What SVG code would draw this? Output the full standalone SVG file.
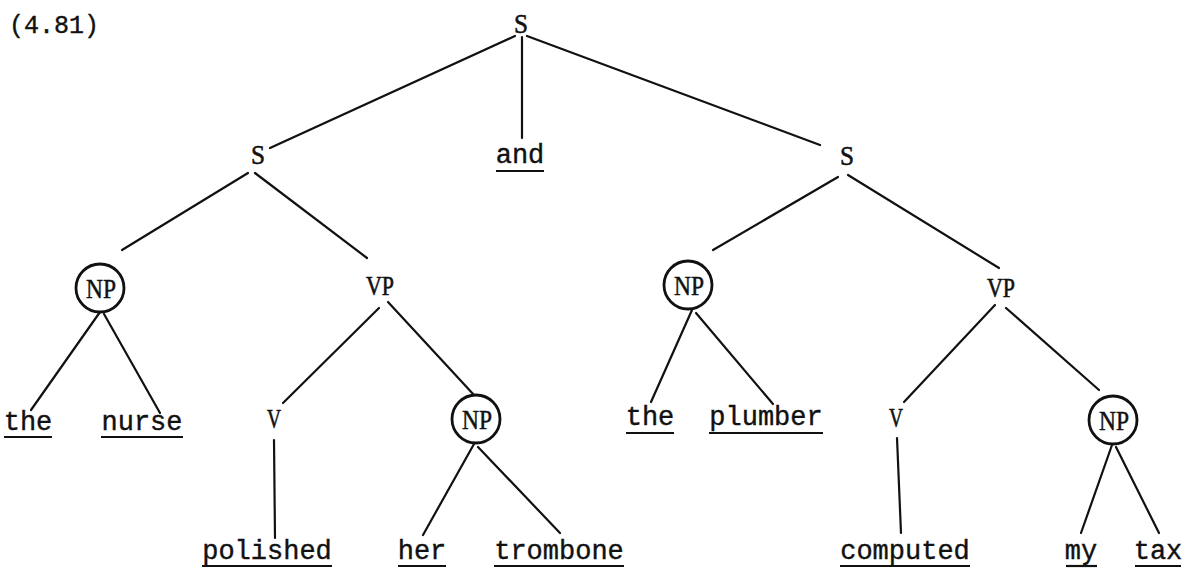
<svg xmlns="http://www.w3.org/2000/svg" width="1185" height="569" viewBox="0 0 1185 569">
<style>
.bg{fill:#fff}
.lbl{font-family:"Liberation Serif","DejaVu Serif",serif;font-size:27px;fill:#111;stroke:#111;stroke-width:0.6;text-anchor:middle}
.np{font-family:"Liberation Serif","DejaVu Serif",serif;font-size:28px;fill:#111;stroke:#111;stroke-width:0.5;text-anchor:middle}
.leaf{font-family:"Liberation Mono","DejaVu Sans Mono",monospace;font-size:27px;fill:#111;stroke:#111;stroke-width:0.4;text-anchor:middle}
.num{font-family:"Liberation Mono","DejaVu Sans Mono",monospace;font-size:25px;fill:#111;stroke:#111;stroke-width:0.4}
.ul{stroke:#111;stroke-width:2.2}
.circ{fill:none;stroke:#111;stroke-width:2.8}
.edge line{stroke:#111;stroke-width:2.2;stroke-linecap:round}
</style>
<rect class="bg" x="0" y="0" width="1185" height="569"/>
<text class="num" x="9" y="33">(4.81)</text>
<g id="connectors" class="edge">
<line x1="515" y1="36" x2="270" y2="148"/>
<line x1="522" y1="37" x2="522" y2="138"/>
<line x1="527" y1="36" x2="820" y2="145"/>
<line x1="248" y1="173" x2="122" y2="250"/>
<line x1="255" y1="173" x2="367" y2="258"/>
<line x1="838" y1="177" x2="713" y2="250"/>
<line x1="848" y1="175" x2="999" y2="268"/>
<line x1="100" y1="312" x2="31" y2="410"/>
<line x1="104" y1="314" x2="160" y2="413"/>
<line x1="379" y1="308" x2="283" y2="403"/>
<line x1="388" y1="302" x2="474" y2="395"/>
<line x1="274" y1="440" x2="275" y2="538"/>
<line x1="474" y1="444" x2="423" y2="535"/>
<line x1="478" y1="447" x2="560" y2="533"/>
<line x1="692" y1="310" x2="651" y2="402"/>
<line x1="696" y1="313" x2="773" y2="404"/>
<line x1="995" y1="305" x2="904" y2="402"/>
<line x1="1006" y1="308" x2="1099" y2="390"/>
<line x1="897" y1="438" x2="901" y2="533"/>
<line x1="1112" y1="445" x2="1081" y2="533"/>
<line x1="1116" y1="447" x2="1159" y2="533"/>
</g>
<g id="s-top"><text class="lbl" x="521" y="33" textLength="14" lengthAdjust="spacingAndGlyphs">S</text></g>
<g id="and"><text class="leaf" x="520" y="163">and</text><line class="ul" x1="496" y1="171" x2="544" y2="171"/></g>
<g id="s-left"><text class="lbl" x="258" y="164" textLength="14" lengthAdjust="spacingAndGlyphs">S</text></g>
<g id="s-right"><text class="lbl" x="847" y="165" textLength="14" lengthAdjust="spacingAndGlyphs">S</text></g>
<g id="np1"><circle class="circ" cx="100" cy="288" r="24"/><text class="np" x="101" y="298" textLength="30" lengthAdjust="spacingAndGlyphs">NP</text></g>
<g id="the1"><text class="leaf" x="28" y="430">the</text><line class="ul" x1="4" y1="437" x2="52" y2="437"/></g>
<g id="nurse"><text class="leaf" x="142" y="430">nurse</text><line class="ul" x1="101" y1="437" x2="183" y2="437"/></g>
<g id="vp1"><text class="lbl" x="380" y="295" textLength="28" lengthAdjust="spacingAndGlyphs">VP</text></g>
<g id="v1"><text class="lbl" x="274" y="428" textLength="14" lengthAdjust="spacingAndGlyphs">V</text></g>
<g id="np2"><circle class="circ" cx="476" cy="419" r="24"/><text class="np" x="477" y="429" textLength="30" lengthAdjust="spacingAndGlyphs">NP</text></g>
<g id="polished"><text class="leaf" x="267" y="559">polished</text><line class="ul" x1="202" y1="566" x2="332" y2="566"/></g>
<g id="her"><text class="leaf" x="422" y="559">her</text><line class="ul" x1="398" y1="566" x2="446" y2="566"/></g>
<g id="trombone"><text class="leaf" x="559" y="559">trombone</text><line class="ul" x1="494" y1="566" x2="624" y2="566"/></g>
<g id="np3"><circle class="circ" cx="688" cy="285" r="24"/><text class="np" x="689" y="295" textLength="30" lengthAdjust="spacingAndGlyphs">NP</text></g>
<g id="the2"><text class="leaf" x="650" y="425">the</text><line class="ul" x1="626" y1="433" x2="674" y2="433"/></g>
<g id="plumber"><text class="leaf" x="766" y="425">plumber</text><line class="ul" x1="709" y1="433" x2="823" y2="433"/></g>
<g id="vp2"><text class="lbl" x="1001" y="297" textLength="28" lengthAdjust="spacingAndGlyphs">VP</text></g>
<g id="v2"><text class="lbl" x="896" y="427" textLength="14" lengthAdjust="spacingAndGlyphs">V</text></g>
<g id="np4"><circle class="circ" cx="1113" cy="420" r="24"/><text class="np" x="1114" y="430" textLength="30" lengthAdjust="spacingAndGlyphs">NP</text></g>
<g id="computed"><text class="leaf" x="905" y="559">computed</text><line class="ul" x1="840" y1="566" x2="970" y2="566"/></g>
<g id="my"><text class="leaf" x="1081" y="559">my</text><line class="ul" x1="1066" y1="566" x2="1097" y2="566"/></g>
<g id="tax"><text class="leaf" x="1158" y="559">tax</text><line class="ul" x1="1135" y1="566" x2="1181" y2="566"/></g>
</svg>
